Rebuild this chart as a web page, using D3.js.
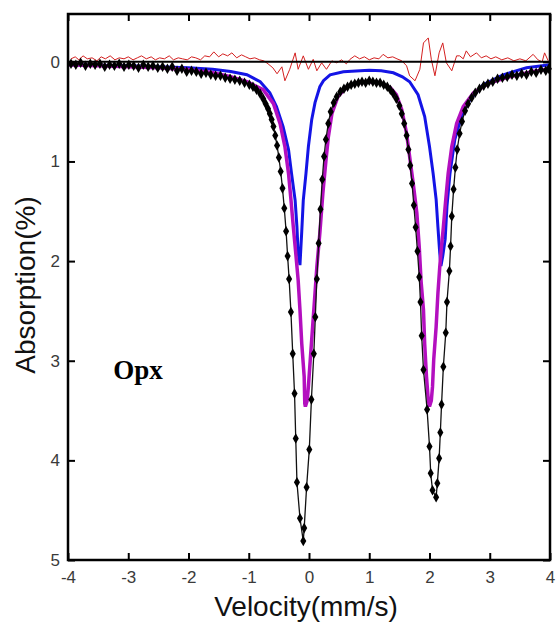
<!DOCTYPE html>
<html>
<head>
<meta charset="utf-8">
<script src="https://cdn.jsdelivr.net/npm/d3@7"></script>
<style>
  body { margin: 0; background: #fff; }
  .tick text { font-family: "Liberation Sans", Arial, sans-serif; font-size: 17px; fill: #3a3a3a; }
  .label { font-family: "Liberation Sans", Arial, sans-serif; font-size: 28px; fill: #111; }
</style>
</head>
<body>
<svg id="chart" width="556" height="626"></svg>
<script>
// measured spectrum (velocity mm/s, absorption %)
var dataV = [-3.95,-3.87,-3.79,-3.71,-3.63,-3.55,-3.47,-3.39,-3.31,-3.23,-3.15,-3.07,-2.99,-2.91,-2.83,-2.75,-2.67,-2.59,-2.51,-2.43,-2.35,-2.27,-2.19,-2.11,-2.03,-1.95,-1.87,-1.79,-1.71,-1.63,-1.55,-1.47,-1.39,-1.31,-1.23,-1.15,-1.07,-0.99,-0.93,-0.87,-0.81,-0.76,-0.72,-0.68,-0.65,-0.62,-0.59,-0.56,-0.53,-0.50,-0.47,-0.44,-0.41,-0.38,-0.355,-0.33,-0.30,-0.27,-0.24,-0.22,-0.20,-0.15,-0.095,-0.08,-0.04,0.005,0.04,0.08,0.105,0.13,0.16,0.19,0.22,0.25,0.28,0.32,0.36,0.41,0.46,0.52,0.58,0.64,0.70,0.76,0.82,0.88,0.94,1.00,1.06,1.12,1.18,1.24,1.30,1.35,1.40,1.45,1.50,1.54,1.58,1.62,1.65,1.68,1.71,1.74,1.77,1.80,1.83,1.85,1.87,1.90,1.96,2.00,2.02,2.05,2.11,2.13,2.16,2.18,2.20,2.23,2.27,2.29,2.33,2.35,2.37,2.40,2.43,2.46,2.50,2.54,2.59,2.64,2.70,2.76,2.83,2.90,2.97,3.05,3.13,3.21,3.29,3.37,3.45,3.53,3.61,3.69,3.77,3.85,3.93,3.98];
var dataA = [0.02,0.03,0.01,0.04,0.02,0.03,0.02,0.05,0.03,0.04,0.02,0.05,0.03,0.04,0.06,0.03,0.05,0.04,0.06,0.05,0.07,0.05,0.09,0.07,0.10,0.09,0.10,0.12,0.11,0.13,0.14,0.14,0.16,0.17,0.18,0.19,0.21,0.23,0.25,0.28,0.32,0.37,0.42,0.47,0.52,0.58,0.65,0.74,0.84,0.96,1.10,1.27,1.47,1.70,1.95,2.18,2.51,2.93,3.33,3.78,4.22,4.58,4.81,4.68,4.27,3.89,3.39,2.93,2.56,2.18,1.82,1.48,1.18,0.95,0.78,0.62,0.50,0.41,0.35,0.30,0.27,0.25,0.23,0.22,0.21,0.20,0.21,0.19,0.20,0.21,0.21,0.23,0.25,0.28,0.32,0.37,0.44,0.52,0.62,0.74,0.88,1.04,1.22,1.44,1.66,1.90,2.16,2.41,2.75,3.09,3.49,3.86,4.13,4.30,4.37,4.23,3.98,3.72,3.44,3.06,2.72,2.41,2.10,1.85,1.55,1.28,1.06,0.88,0.72,0.60,0.49,0.42,0.36,0.31,0.27,0.24,0.22,0.20,0.17,0.16,0.15,0.13,0.14,0.12,0.13,0.10,0.11,0.08,0.09,0.07];

// fitted doublet 1 (blue)
var blueV = [-4.0,-3.5,-3.0,-2.5,-2.0,-1.6,-1.3,-1.03,-0.81,-0.65,-0.54,-0.43,-0.34,-0.29,-0.23,-0.20,-0.18,-0.15,-0.12,-0.095,-0.05,-0.01,0.045,0.10,0.18,0.24,0.35,0.57,0.85,1.0,1.2,1.40,1.55,1.67,1.81,1.92,2.0,2.06,2.11,2.14,2.17,2.19,2.22,2.26,2.29,2.34,2.42,2.53,2.67,2.89,3.22,3.61,4.0];
var blueA = [0.03,0.035,0.04,0.05,0.06,0.075,0.097,0.13,0.20,0.31,0.45,0.65,0.88,1.12,1.39,1.66,1.92,2.04,1.70,1.39,1.12,0.85,0.58,0.41,0.25,0.19,0.13,0.10,0.09,0.085,0.09,0.11,0.15,0.20,0.33,0.55,0.85,1.12,1.38,1.66,1.92,2.05,1.95,1.78,1.45,1.12,0.78,0.55,0.38,0.23,0.13,0.06,0.03];

// fitted doublet 2 (magenta)
var magV = [-4.0,-3.5,-3.0,-2.5,-2.0,-1.59,-1.3,-1.03,-0.76,-0.59,-0.48,-0.40,-0.34,-0.30,-0.26,-0.22,-0.18,-0.15,-0.12,-0.08,-0.07,-0.06,-0.03,-0.01,0.02,0.06,0.10,0.13,0.18,0.23,0.28,0.32,0.38,0.48,0.63,0.80,1.0,1.18,1.35,1.45,1.54,1.62,1.67,1.73,1.79,1.83,1.86,1.90,1.92,1.95,1.98,2.0,2.03,2.05,2.07,2.11,2.14,2.17,2.20,2.23,2.27,2.31,2.37,2.45,2.56,2.73,3.0,3.33,3.72,4.0];
var magA = [0.03,0.04,0.05,0.06,0.08,0.11,0.15,0.20,0.28,0.42,0.62,0.85,1.12,1.38,1.66,1.92,2.19,2.49,2.83,3.16,3.43,3.46,3.40,3.26,3.00,2.66,2.32,2.06,1.72,1.32,1.00,0.76,0.52,0.35,0.25,0.21,0.20,0.21,0.26,0.33,0.48,0.72,0.95,1.22,1.52,1.86,2.20,2.49,2.83,3.16,3.40,3.46,3.40,3.26,2.99,2.66,2.32,2.06,1.85,1.66,1.38,1.12,0.85,0.62,0.45,0.31,0.21,0.15,0.097,0.07];

// residual (red)
var resV = [-3.95,-3.88,-3.82,-3.75,-3.68,-3.60,-3.52,-3.45,-3.38,-3.30,-3.22,-3.15,-3.07,-3.00,-2.92,-2.85,-2.78,-2.70,-2.62,-2.55,-2.48,-2.40,-2.32,-2.25,-2.17,-2.10,-2.02,-1.95,-1.88,-1.80,-1.73,-1.65,-1.58,-1.50,-1.43,-1.35,-1.28,-1.20,-1.12,-1.05,-0.98,-0.90,-0.82,-0.75,-0.68,-0.60,-0.53,-0.45,-0.40,-0.32,-0.23,-0.18,-0.095,-0.01,0.07,0.13,0.21,0.29,0.38,0.46,0.54,0.62,0.68,0.76,0.84,0.92,1.00,1.08,1.16,1.23,1.31,1.39,1.46,1.54,1.62,1.67,1.76,1.84,1.90,1.98,2.03,2.09,2.16,2.22,2.28,2.37,2.45,2.50,2.56,2.61,2.68,2.78,2.86,2.94,3.02,3.10,3.20,3.30,3.40,3.50,3.60,3.72,3.80,3.87,3.91,3.97];
var resA = [-0.03,-0.05,-0.02,-0.06,-0.03,-0.04,-0.01,-0.05,-0.03,-0.06,-0.02,-0.04,-0.03,-0.05,-0.02,-0.04,-0.06,-0.03,-0.05,-0.02,-0.04,-0.03,-0.06,-0.02,-0.04,-0.03,-0.02,-0.05,-0.04,-0.02,-0.06,-0.05,-0.10,-0.05,-0.08,-0.06,-0.09,-0.04,-0.07,-0.05,-0.03,-0.04,-0.02,-0.01,0.02,0.06,0.12,0.05,0.19,0.075,-0.09,0.075,-0.06,0.075,-0.025,0.09,0.01,0.075,-0.01,0.01,-0.02,0.02,-0.025,-0.06,-0.03,-0.05,-0.02,-0.04,-0.03,-0.075,-0.04,-0.05,-0.03,-0.01,0.04,0.14,0.19,0.075,-0.19,-0.24,-0.025,0.14,-0.09,-0.19,0.01,0.09,-0.06,-0.06,-0.03,-0.11,-0.05,-0.09,-0.04,-0.06,-0.03,-0.05,-0.02,-0.04,-0.01,-0.03,-0.01,-0.075,-0.02,0.0,-0.09,-0.01];

var xTicks = [-4,-3,-2,-1,0,1,2,3,4];
var yTicks = [0,1,2,3,4,5];

var margin = {top: 14, right: 6, bottom: 66, left: 68},
    width = 556 - margin.left - margin.right,
    height = 626 - margin.top - margin.bottom;

var svg = d3.select("#chart")
  .append("g")
    .attr("transform", "translate(" + margin.left + "," + margin.top + ")");

var x = d3.scaleLinear().domain([-4, 4]).range([0, width]);
var y = d3.scaleLinear().domain([-0.48, 5]).range([0, height]);

function pairs(vs, as) {
  return vs.map(function(v, i) { return [v, as[i]]; });
}

var line = d3.line()
  .x(function(d) { return x(d[0]); })
  .y(function(d) { return y(d[1]); });

var plot = svg.append("g");

// residual
plot.append("path")
  .datum(pairs(resV, resA))
  .attr("d", line)
  .attr("fill", "none")
  .attr("stroke", "#d42020")
  .attr("stroke-width", 1);

// zero line
plot.append("line")
  .attr("x1", x(-4)).attr("x2", x(4))
  .attr("y1", y(0)).attr("y2", y(0))
  .attr("stroke", "#000")
  .attr("stroke-width", 2);

plot.append("path")
  .datum(pairs(blueV, blueA))
  .attr("d", line)
  .attr("fill", "none")
  .attr("stroke", "#1414e6")
  .attr("stroke-width", 3);

plot.append("path")
  .datum(pairs(magV, magA))
  .attr("d", line)
  .attr("fill", "none")
  .attr("stroke", "#b30fbf")
  .attr("stroke-width", 3.5);

var pts = pairs(dataV, dataA);

plot.append("path")
  .datum(pts)
  .attr("d", line)
  .attr("fill", "none")
  .attr("stroke", "#111")
  .attr("stroke-width", 1.3);

plot.selectAll(".pt")
  .data(pts)
  .enter().append("path")
    .attr("class", "pt")
    .attr("transform", function(d) { return "translate(" + x(d[0]) + "," + y(d[1]) + ")"; })
    .attr("d", d3.symbol(d3.symbolDiamond, 32))
    .attr("fill", "#000");

// axes with inward ticks, plain hyphen labels
var fmt = function(d) { return String(d); };

svg.append("g")
  .attr("transform", "translate(0," + height + ")")
  .call(d3.axisBottom(x).tickValues(xTicks).tickFormat(fmt).tickSizeInner(-7).tickSizeOuter(0).tickPadding(11))
  .call(function(g) { g.select(".domain").remove(); });

svg.append("g")
  .call(d3.axisTop(x).tickValues(xTicks).tickSizeInner(-7).tickSizeOuter(0).tickFormat(""))
  .call(function(g) { g.select(".domain").remove(); });

svg.append("g")
  .call(d3.axisLeft(y).tickValues(yTicks).tickFormat(fmt).tickSizeInner(-7).tickSizeOuter(0).tickPadding(8))
  .call(function(g) { g.select(".domain").remove(); });

svg.append("g")
  .attr("transform", "translate(" + width + ",0)")
  .call(d3.axisRight(y).tickValues(yTicks).tickSizeInner(-7).tickSizeOuter(0).tickFormat(""))
  .call(function(g) { g.select(".domain").remove(); });

svg.selectAll(".tick line").attr("stroke", "#000").attr("stroke-width", 2);

svg.append("rect")
  .attr("width", width)
  .attr("height", height)
  .attr("fill", "none")
  .attr("stroke", "#000")
  .attr("stroke-width", 2.5);

// labels
svg.append("text")
  .attr("class", "label")
  .attr("text-anchor", "middle")
  .attr("x", x(-0.05))
  .attr("y", height + 56)
  .text("Velocity(mm/s)");

svg.append("text")
  .attr("class", "label")
  .attr("text-anchor", "middle")
  .attr("transform", "translate(-33," + 271 + ") rotate(-90)")
  .text("Absorption(%)");

svg.append("text")
  .attr("x", x(-3.25))
  .attr("y", y(3.18))
  .attr("font-family", "Liberation Serif, Times New Roman, serif")
  .attr("font-weight", "bold")
  .attr("font-size", 27)
  .text("Opx");
</script>
</body>
</html>
